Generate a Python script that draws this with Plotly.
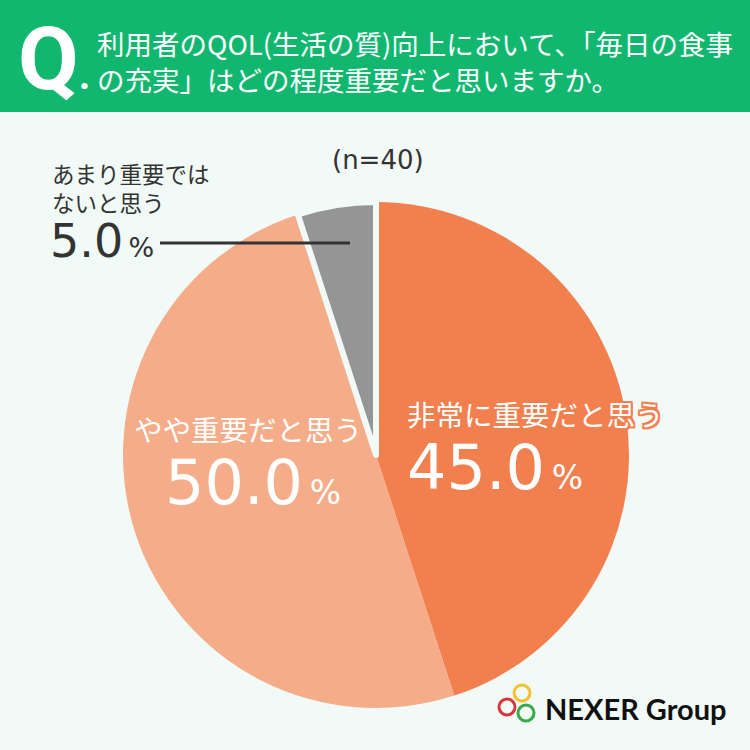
import plotly.graph_objects as go

# survey answers, clockwise from 12 o'clock
CATEGORIES = ["非常に重要だと思う", "やや重要だと思う", "あまり重要ではないと思う"]
SHARES = [45.0, 50.0, 5.0]
N_RESPONSES = 40

QUESTION_LINES = ["利用者のQOL(生活の質)向上において、「毎日の食事", "の充実」はどの程度重要だと思いますか。"]

SLICE_COLORS = ["#F2804F", "#F5AC89", "#959595"]
BG = "#F1FAF7"
HEADER_GREEN = "#12B76F"
DARK = "#333333"
JP_FONT = "Noto Sans CJK JP"
NUM_FONT = "DejaVu Sans, Noto Sans, sans-serif"

W = H = 750


def px(x):
    return x / W


def py(y):
    return 1 - y / H


def pct_text(value, big, small):
    return (f"<span style='font-size:{big}px'>{value:.1f}</span>"
            f"<span style='font-size:{small}px'>&#8201;%</span>")


# pie geometry (pixels)
cx, cy, r = 376, 455, 253

fig = go.Figure(go.Pie(
    labels=CATEGORIES,
    values=SHARES,
    sort=False,
    direction="clockwise",
    rotation=0,
    marker=dict(colors=SLICE_COLORS, line=dict(color=BG, width=[0, 0, 6])),
    textinfo="none",
    hoverinfo="skip",
    showlegend=False,
    domain=dict(x=[px(cx - r), px(cx + r)], y=[py(cy + r), py(cy - r)]),
))

shapes = [
    dict(type="rect", xref="paper", yref="paper", x0=0, x1=1, y0=py(112), y1=1,
         fillcolor=HEADER_GREEN, line_width=0, layer="below"),
    dict(type="line", xref="paper", yref="paper", x0=px(160), x1=px(350),
         y0=py(243), y1=py(243), line=dict(color=DARK, width=3)),
]
# logo rings
for (lx, ly, col) in [(507, 707, "#D9383A"), (522, 693, "#F2C230"), (526, 713, "#3AAA49")]:
    shapes.append(dict(type="circle", xref="paper", yref="paper",
                       x0=px(lx - 8), x1=px(lx + 8), y0=py(ly + 8), y1=py(ly - 8),
                       line=dict(color=col, width=3)))

outline = ", ".join(f"{dx}px {dy}px 0 {SLICE_COLORS[0]}"
                    for dx, dy in [(2, 0), (-2, 0), (0, 2), (0, -2), (2, 2), (-2, -2), (2, -2), (-2, 2)])

annotations = [
    dict(x=px(16), y=py(58), text="<b>Q</b><span style='font-size:40px'><b>.</b></span>",
         xanchor="left", yanchor="middle",
         font=dict(family="Roboto", size=88, color="white")),
    dict(x=px(95), y=py(61), text="<br>".join(QUESTION_LINES), xanchor="left", yanchor="middle",
         align="left", font=dict(family=JP_FONT, size=27.5, color="white")),
    dict(x=px(378), y=py(160), text=f"(n={N_RESPONSES})", xanchor="center", yanchor="middle",
         font=dict(family=NUM_FONT, size=26, color=DARK)),
    # small slice label
    dict(x=px(50), y=py(188), text="あまり重要では<br>ないと思う", xanchor="left", yanchor="middle",
         align="left", font=dict(family=JP_FONT, size=22.5, color=DARK)),
    dict(x=px(48), y=py(241), text=pct_text(SHARES[2], 46, 27), xanchor="left", yanchor="middle",
         font=dict(family=NUM_FONT, color=DARK)),
    # big slices
    dict(x=px(405), y=py(413), text=CATEGORIES[0], xanchor="left", yanchor="middle",
         font=dict(family=JP_FONT, size=28.5, color="white", shadow=outline)),
    dict(x=px(405), y=py(467), text=pct_text(SHARES[0], 62, 33), xanchor="left", yanchor="middle",
         font=dict(family=NUM_FONT, color="white")),
    dict(x=px(132), y=py(428), text=CATEGORIES[1], xanchor="left", yanchor="middle",
         font=dict(family=JP_FONT, size=28.5, color="white")),
    dict(x=px(163), y=py(482), text=pct_text(SHARES[1], 62, 33), xanchor="left", yanchor="middle",
         font=dict(family=NUM_FONT, color="white")),
    # logo text
    dict(x=px(543), y=py(708), text="<b>NEXER Group</b>", xanchor="left", yanchor="middle",
         font=dict(family="Lato", size=29, color="#111111")),
]
for a in annotations:
    a.update(xref="paper", yref="paper", showarrow=False)

fig.update_layout(
    width=W, height=H,
    margin=dict(l=0, r=0, t=0, b=0),
    paper_bgcolor=BG, plot_bgcolor=BG,
    shapes=shapes,
    annotations=annotations,
)

# drop the default page margin so the figure fills the window exactly
fig.write_html("out.html", config={"displayModeBar": False},
               post_script="document.body.style.margin='0';")
